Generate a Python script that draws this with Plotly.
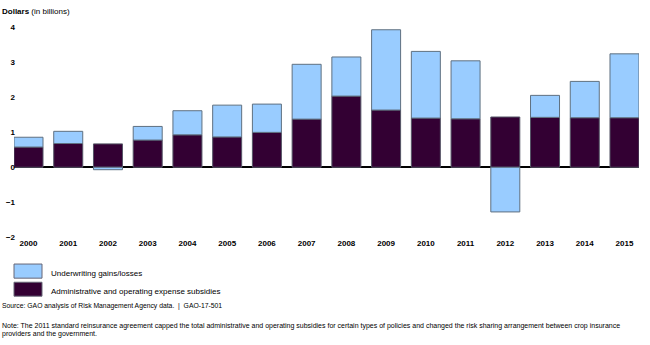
import plotly.graph_objects as go

years = [str(y) for y in range(2000, 2016)]
admin = [0.58, 0.68, 0.67, 0.78, 0.93, 0.87, 1.00, 1.38, 2.04, 1.64, 1.41, 1.39, 1.44, 1.43, 1.42, 1.42]
underwriting = [0.28, 0.35, -0.07, 0.39, 0.69, 0.91, 0.81, 1.57, 1.12, 2.30, 1.91, 1.66, -1.28, 0.63, 1.04, 1.83]
y_ticks = [-2, -1, 0, 1, 2, 3, 4]

W, H = 650, 345
FONT = "Liberation Sans, Arial, sans-serif"
LIGHT = "#99CCFF"
DARK = "#330033"

def px(x):
    return x / W

def py(y):
    return 1 - y / H

fig = go.Figure()
fig.add_trace(go.Bar(x=list(range(len(years))), y=admin, marker=dict(color=DARK, line=dict(color="#555566", width=1)),
                     name="Administrative and operating expense subsidies", width=0.73))
fig.add_trace(go.Bar(x=list(range(len(years))), y=underwriting, marker=dict(color=LIGHT, line=dict(color="#5f7080", width=1)),
                     name="Underwriting gains/losses", width=0.73))

fig.update_layout(
    width=W, height=H, barmode="relative", showlegend=False,
    margin=dict(l=0, r=0, t=0, b=0),
    plot_bgcolor="white", paper_bgcolor="white",
    font=dict(family=FONT, color="black"),
    xaxis=dict(domain=[px(14), px(639)], range=[-0.365, 15.365], tickmode="array",
               tickvals=list(range(len(years))), ticktext=years, showgrid=False, showline=False,
               zeroline=False, ticks="", tickfont=dict(size=8, family=FONT, weight="bold")),
    yaxis=dict(domain=[py(239.3), py(24.3)], range=[-2.0, 4.0], tickvals=y_ticks,
               showgrid=False, showline=False, zeroline=True, zerolinecolor="black", zerolinewidth=2,
               ticks="", ticklabelstandoff=-2, tickfont=dict(size=8, family=FONT, weight="bold")),
)

# Title
fig.add_annotation(x=px(0), y=py(7.5), xref="paper", yref="paper", xanchor="left", yanchor="middle",
                   text="<b>Dollars</b> (in billions)", showarrow=False, font=dict(size=8, family=FONT))

# Manual legend
legend_items = [("Underwriting gains/losses", LIGHT, 267, 281.5), ("Administrative and operating expense subsidies", DARK, 285.7, 300)]
for label, color, y0, y1 in legend_items:
    fig.add_shape(type="rect", xref="paper", yref="paper", x0=px(14), x1=px(42), y0=py(y1), y1=py(y0),
                  fillcolor=color, line=dict(color="#666677", width=1))
    fig.add_annotation(x=px(49), y=py((y0 + y1) / 2 + 2), xref="paper", yref="paper", xanchor="left", yanchor="middle",
                       text=label, showarrow=False, font=dict(size=8, family=FONT))

fig.add_annotation(x=px(0), y=py(310.5), xref="paper", yref="paper", xanchor="left", yanchor="middle",
                   text="Source: GAO analysis of Risk Management Agency data.  |  GAO-17-501", showarrow=False,
                   font=dict(size=6.8, family=FONT))
note_lines = ["Note: The 2011 standard reinsurance agreement capped the total administrative and operating subsidies for certain types of policies and changed the risk sharing arrangement between crop insurance",
              "providers and the government."]
for i, line in enumerate(note_lines):
    fig.add_annotation(x=px(0), y=py(331 + 7.5 * i), xref="paper", yref="paper", xanchor="left", yanchor="middle",
                       text=line, showarrow=False, font=dict(size=7, family=FONT))

fig.write_html("out.html")
